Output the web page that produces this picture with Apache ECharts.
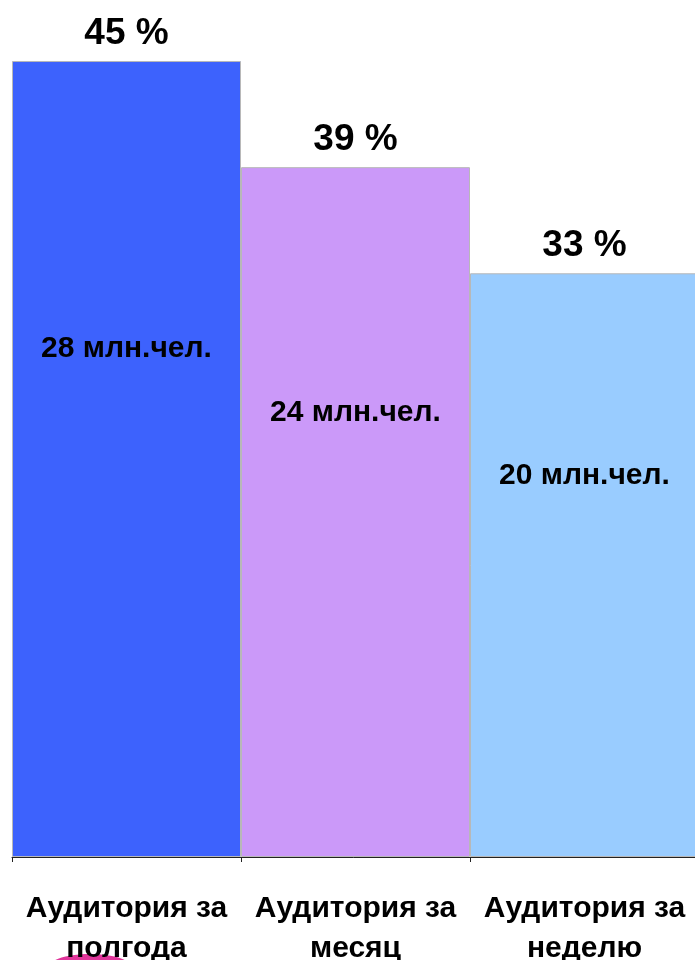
<!DOCTYPE html>
<html>
<head>
<meta charset="utf-8">
<script src="https://cdn.jsdelivr.net/npm/echarts@6/dist/echarts.min.js"></script>
<style>
  html, body { margin: 0; padding: 0; background: #fff; overflow: hidden; }
  #chart { width: 695px; height: 960px; }
</style>
</head>
<body>
<div id="chart"></div>
<script>
const categories = ['Аудитория за\nполгода', 'Аудитория за\nмесяц', 'Аудитория за\nнеделю'];
const shares = [45, 39, 33];          // % of audience
const millions = [28, 24, 20];        // million people
const barColors = ['#3d62fd', '#cb99f9', '#99ccff'];

const chart = echarts.init(document.getElementById('chart'), null, { renderer: 'canvas' });

const font = '"Liberation Sans", Arial, sans-serif';

chart.setOption({
  animation: false,
  grid: { left: 12, top: 0, width: 687, height: 857, outerBoundsMode: 'none', containLabel: false },
  xAxis: {
    type: 'category',
    data: categories,
    axisLine: { lineStyle: { color: '#222', width: 1 } },
    axisTick: { show: true, length: 5, lineStyle: { color: '#222' } },
    axisLabel: {
      color: '#000', fontFamily: font, fontWeight: 'bold', fontSize: 30,
      lineHeight: 40, margin: 32, interval: 0
    }
  },
  yAxis: [
    { type: 'value', min: 0, max: 48.45, show: false, splitLine: { show: false } },
    // second scale just to place the "млн.чел." labels
    { type: 'value', min: -4.0, max: 50.0, show: false, splitLine: { show: false } }
  ],
  series: [
    {
      type: 'bar',
      barCategoryGap: 0,
      data: shares.map((v, i) => ({ value: v, itemStyle: { color: barColors[i] } })),
      itemStyle: { borderColor: '#b8b8b8', borderWidth: 1 },
      label: {
        show: true, position: 'top', distance: 9,
        formatter: p => p.value + ' %',
        color: '#000', fontFamily: font, fontWeight: 'bold', fontSize: 37
      },
      silent: true
    },
    {
      type: 'scatter',
      yAxisIndex: 1,
      symbolSize: 0,
      data: millions,
      itemStyle: { opacity: 1 },
      label: {
        show: true, position: 'inside',
        formatter: p => p.value + ' млн.чел.',
        color: '#000', opacity: 1, fontFamily: font, fontWeight: 'bold', fontSize: 30
      },
      silent: true
    }
  ],
  graphic: [
    {
      type: 'ellipse',
      shape: { cx: 90, cy: 966, rx: 40, ry: 12 },
      style: { fill: '#e0359a' },
      z: -1
    }
  ]
});
</script>
</body>
</html>
